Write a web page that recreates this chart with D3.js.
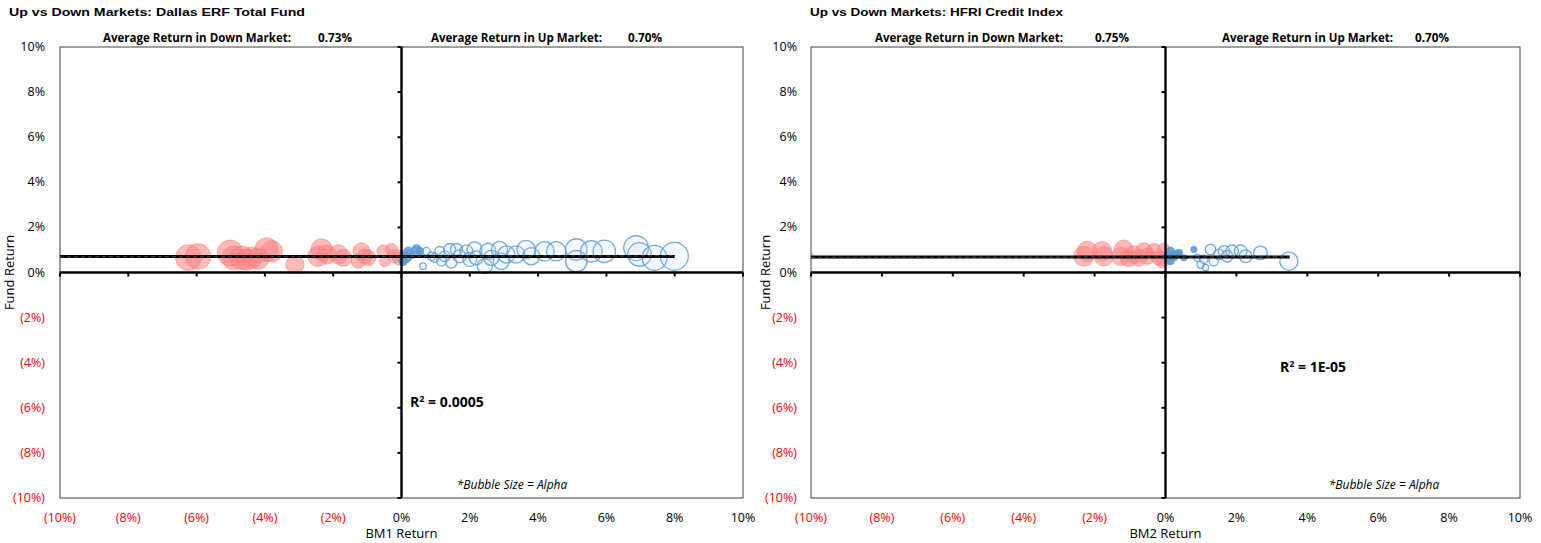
<!DOCTYPE html>
<html><head><meta charset="utf-8">
<script src="https://cdn.jsdelivr.net/npm/d3@7"></script>
<style>
body{margin:0;background:#fff;}
svg{display:block;}
</style></head>
<body>
<svg id="c" width="1541" height="543" font-family="'Open Sans', sans-serif"></svg>
<script>
// ---------- DATA ----------
const titles = ["Up vs Down Markets: Dallas ERF Total Fund", "Up vs Down Markets: HFRI Credit Index"];
const xLabels = ["BM1 Return", "BM2 Return"];
const avgDown = ["0.73%", "0.75%"];
const avgUp = ["0.70%", "0.70%"];
const r2Text = ["0.0005", "1E-05"];
const tickValues = [-10, -8, -6, -4, -2, 0, 2, 4, 6, 8, 10];

// [BM return %, fund return %, alpha size]
const downLeft = [[-6.24,0.66,79],[-5.96,0.71,79],[-5.02,0.87,79],[-4.92,0.65,66],[-4.68,0.65,66],[-4.53,0.58,55],
  [-4.39,0.65,55],[-4.2,0.62,55],[-3.95,1.02,66],[-3.8,0.94,55],[-3.12,0.35,40],[-2.34,1.02,55],[-2.44,0.72,50],
  [-2.19,0.8,44],[-1.85,0.8,44],[-1.7,0.65,35],[-1.27,0.5,23],[-1.17,0.94,35],[-1.07,0.72,27],[-0.97,0.65,27],
  [-0.53,0.94,20],[-0.49,0.5,14],[-0.29,1.02,17],[-0.2,0.72,20],[-0.05,0.66,27]];
const upLeft = [[0.73,0.94,7],[0.63,0.28,5],[0.88,0.72,9],[0.97,0.65,9],[1.12,0.94,11],[1.17,0.5,11],[1.27,0.72,14],
  [1.41,1.02,17],[1.46,0.43,14],[1.61,1.02,17],[1.7,0.72,20],[1.9,0.94,20],[2.0,0.58,23],[2.14,1.02,27],[2.19,0.65,23],
  [2.44,0.28,27],[2.53,0.94,31],[2.63,0.65,27],[2.87,1.02,31],[2.92,0.5,31],[3.07,0.8,35],[3.36,0.8,35],[3.65,1.02,40],
  [3.8,0.72,35],[4.19,0.94,44],[4.53,0.94,44],[5.12,1.02,55],[5.12,0.5,55],[5.56,0.94,55],[5.94,0.94,60],
  [6.87,1.08,73],[6.97,0.8,66],[7.41,0.65,73],[7.99,0.72,93]];
const nearLeft = [[0.1,0.8,5],[0.2,0.94,9],[0.44,1.02,11],[0.54,0.94,7],[0.05,0.5,9],[0.15,0.65,11],[0.3,0.75,5]];

const downRight = [[-10.25,0.73,100],[-2.31,0.72,90],[-2.21,0.94,90],[-1.79,0.94,85],[-1.74,0.72,85],[-1.18,1.02,80],
  [-1.27,0.72,75],[-1.04,0.65,70],[-0.9,0.8,70],[-0.75,0.65,65],[-0.61,0.94,65],[-0.52,0.72,60],[-0.33,0.94,55],
  [-0.19,0.65,50],[-0.09,0.5,40],[-0.05,1.02,36]];
const upRight = [[0.9,0.65,12],[0.99,0.35,12],[1.08,0.58,16],[1.13,0.22,9],[1.27,1.02,25],[1.36,0.5,20],[1.51,0.8,25],
  [1.65,0.94,30],[1.74,0.72,30],[1.88,0.94,36],[2.12,0.94,36],[2.26,0.72,36],[2.68,0.87,42],[3.48,0.5,75]];
const nearRight = [[0.14,0.94,16],[0.23,0.72,20],[0.14,0.5,12],[0.38,0.87,12],[0.52,0.65,9],[0.8,1.02,9],[0.3,0.8,16],[0.05,0.7,16]];

// average line [x start, x end, y] and trendline [x0,y0,x1,y1]
const avgLine = [[-10, 8.0, 0.71], [-10, 3.5, 0.69]];
const trendLine = [[-10, 0.69, 8.0, 0.74], [-10, 0.66, 3.5, 0.70]];

// ---------- LAYOUT ----------
const panels = [
  {x0:60, x1:743, titleX:9, titleW:296, rMax:14.5, sMax:100, down:downLeft, up:upLeft, near:nearLeft,
   yLabX:45, fundX:14, downLabX:103, downValX:318, upLabX:431, upValX:628, r2:[410,407], bubble:512},
  {x0:811, x1:1520, titleX:810, titleW:253, rMax:10.5, sMax:100, down:downRight, up:upRight, near:nearRight,
   yLabX:797, fundX:770, downLabX:875, downValX:1095, upLabX:1222, upValX:1415, r2:[1280,372], bubble:1384}
];
const yTop = 47, yBot = 498;
const svg = d3.select("#c");
const red = "#ff0000";
const fmt = v => v < 0 ? "(" + Math.abs(v) + "%)" : v + "%";

panels.forEach((p, i) => {
  const g = svg.append("g");
  const x = d3.scaleLinear().domain([-10, 10]).range([p.x0, p.x1]);
  const y = d3.scaleLinear().domain([-10, 10]).range([yBot, yTop]);
  const r = d3.scaleSqrt().domain([0, p.sMax]).range([0, p.rMax]);

  // title
  g.append("text").attr("x", p.titleX).attr("y", 16).text(titles[i])
    .attr("font-family", "'Liberation Sans', Arial, sans-serif")
    .attr("font-weight", "bold").attr("font-size", 11)
    .attr("textLength", p.titleW).attr("lengthAdjust", "spacingAndGlyphs");

  // avg labels
  const lab = (xx, t, w) => g.append("text").attr("x", xx).attr("y", 42).text(t)
    .attr("font-weight", "bold").attr("font-size", 13).attr("fill", "#000")
    .attr("textLength", w).attr("lengthAdjust", "spacingAndGlyphs");
  lab(p.downLabX, "Average Return in Down Market:", 188);
  lab(p.downValX, avgDown[i], 34);
  lab(p.upLabX, "Average Return in Up Market:", 171);
  lab(p.upValX, avgUp[i], 34);

  // plot border
  g.append("rect").attr("x", p.x0).attr("y", yTop).attr("width", p.x1 - p.x0).attr("height", yBot - yTop)
    .attr("fill", "none").attr("stroke", "#404040").attr("stroke-width", 1);

  // tick labels
  tickValues.forEach(v => {
    g.append("text").attr("x", p.yLabX).attr("y", y(v) + 4).attr("text-anchor", "end")
      .attr("font-size", 12.5).attr("fill", v < 0 ? red : "#000").text(fmt(v));
    g.append("text").attr("x", x(v)).attr("y", 522).attr("text-anchor", "middle")
      .attr("font-size", 12.5).attr("fill", v < 0 ? red : "#000").text(fmt(v));
  });

  // axis titles
  g.append("text").attr("x", x(0)).attr("y", 538).attr("text-anchor", "middle").attr("font-size", 13).text(xLabels[i]);
  g.append("text").attr("transform", `translate(${p.fundX},${y(0)}) rotate(-90)`).attr("text-anchor", "middle")
    .attr("font-size", 13).text("Fund Return");

  // clip
  const cid = "clip" + i;
  g.append("clipPath").attr("id", cid).append("rect").attr("x", p.x0).attr("y", yTop)
    .attr("width", p.x1 - p.x0).attr("height", yBot - yTop);
  const pg = g.append("g").attr("clip-path", `url(#${cid})`);

  // bubbles
  pg.selectAll(".dn").data(p.down).join("circle")
    .attr("cx", d => x(d[0])).attr("cy", d => y(d[1])).attr("r", d => r(d[2]))
    .attr("fill", "#ff8080").attr("fill-opacity", 0.55).attr("stroke", "#ff8080").attr("stroke-opacity", 0.6).attr("stroke-width", 1);
  pg.selectAll(".up").data(p.up).join("circle")
    .attr("cx", d => x(d[0])).attr("cy", d => y(d[1])).attr("r", d => r(d[2]))
    .attr("fill", "#bcd6ee").attr("fill-opacity", 0.18).attr("stroke", "#5b9bd5").attr("stroke-opacity", 0.85).attr("stroke-width", 1.3);
  pg.selectAll(".nr").data(p.near).join("circle")
    .attr("cx", d => x(d[0])).attr("cy", d => y(d[1])).attr("r", d => r(d[2]))
    .attr("fill", "#5b9bd5").attr("fill-opacity", 0.9).attr("stroke", "#5b9bd5").attr("stroke-width", 0.8);

  // zero axes
  g.append("line").attr("x1", x(0)).attr("x2", x(0)).attr("y1", yTop).attr("y2", yBot)
    .attr("stroke", "#000").attr("stroke-width", 2.4);
  g.append("line").attr("x1", p.x0).attr("x2", p.x1).attr("y1", y(0)).attr("y2", y(0))
    .attr("stroke", "#000").attr("stroke-width", 2.4);
  tickValues.forEach(v => {
    g.append("line").attr("x1", x(0) - 4).attr("x2", x(0)).attr("y1", y(v)).attr("y2", y(v))
      .attr("stroke", "#000").attr("stroke-width", 2);
    g.append("line").attr("x1", x(v)).attr("x2", x(v)).attr("y1", y(0)).attr("y2", y(0) + 4)
      .attr("stroke", "#000").attr("stroke-width", 2);
  });

  // average line & trend line
  const a = avgLine[i];
  pg.append("line").attr("x1", x(a[0])).attr("x2", x(a[1])).attr("y1", y(a[2])).attr("y2", y(a[2]))
    .attr("stroke", "#000").attr("stroke-width", 3);
  const t = trendLine[i];
  pg.append("line").attr("x1", x(t[0])).attr("x2", x(t[2])).attr("y1", y(t[1])).attr("y2", y(t[3]))
    .attr("stroke", "#333").attr("stroke-width", 1.5).attr("stroke-dasharray", "4,3");

  // R2 text
  const rt = g.append("text").attr("x", p.r2[0]).attr("y", p.r2[1]).attr("font-weight", "bold").attr("font-size", 14);
  rt.append("tspan").text("R");
  rt.append("tspan").attr("dy", -5).attr("font-size", 9).text("2");
  rt.append("tspan").attr("dy", 5).text(" = " + r2Text[i]);

  g.append("text").attr("x", p.bubble).attr("y", 489).attr("text-anchor", "middle")
    .attr("font-style", "italic").attr("font-size", 12).text("*Bubble Size = Alpha");
});
</script>
</body></html>
